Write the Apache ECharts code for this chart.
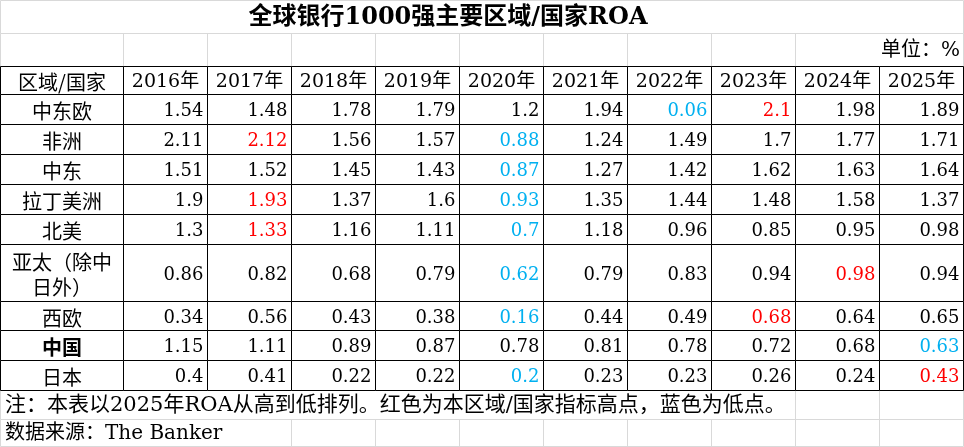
<!DOCTYPE html>
<html><head><meta charset="utf-8">
<script src="https://cdn.jsdelivr.net/npm/echarts@6/dist/echarts.min.js"></script>
<style>html,body{margin:0;padding:0;background:#fff}#main{width:964px;height:447px}</style>
</head><body><div id="main"></div>
<script>
// ---------- texts ----------
const titleText = '全球银行1000强主要区域/国家ROA';
const unitText = '单位：%';
const noteText = '注：本表以2025年ROA从高到低排列。红色为本区域/国家指标高点，蓝色为低点。';
const sourceText = '数据来源：The Banker';
const cornerLabel = '区域/国家';

// ---------- data ----------
const years = ['2016年','2017年','2018年','2019年','2020年','2021年','2022年','2023年','2024年','2025年'];
const regions = ['中东欧','非洲','中东','拉丁美洲','北美','亚太（除中日外）','西欧','中国','日本'];
const cee           = [1.54, 1.48, 1.78, 1.79, 1.2,  1.94, 0.06, 2.1,  1.98, 1.89];
const africa        = [2.11, 2.12, 1.56, 1.57, 0.88, 1.24, 1.49, 1.7,  1.77, 1.71];
const middleEast    = [1.51, 1.52, 1.45, 1.43, 0.87, 1.27, 1.42, 1.62, 1.63, 1.64];
const latinAmerica  = [1.9,  1.93, 1.37, 1.6,  0.93, 1.35, 1.44, 1.48, 1.58, 1.37];
const northAmerica  = [1.3,  1.33, 1.16, 1.11, 0.7,  1.18, 0.96, 0.85, 0.95, 0.98];
const asiaPacific   = [0.86, 0.82, 0.68, 0.79, 0.62, 0.79, 0.83, 0.94, 0.98, 0.94];
const westernEurope = [0.34, 0.56, 0.43, 0.38, 0.16, 0.44, 0.49, 0.68, 0.64, 0.65];
const china         = [1.15, 1.11, 0.89, 0.87, 0.78, 0.81, 0.78, 0.72, 0.68, 0.63];
const japan         = [0.4,  0.41, 0.22, 0.22, 0.2,  0.23, 0.23, 0.26, 0.24, 0.43];
const roaRows = [cee, africa, middleEast, latinAmerica, northAmerica, asiaPacific, westernEurope, china, japan];
// year index shown in red (high) / blue (low) for each region, -1 = none
const highMark = [7, 1, -1, 1, 1, 8, 7, -1, 9];
const lowMark  = [6, 4, 4, 4, 4, 4, 4, 9, 4];
const boldRegion = '中国';

// ---------- layout (sheet column / row weights) ----------
const COL_W = [1.465,1,1,1,1,1,1,1,1,1,1];
const ROW_H = [1.1,1.09,0.953, 1,1,1,1,1,1.88,0.977,1.01,0.99, 0.957,0.91];
const RED = '#FF0000', BLUE = '#00B0F0', GRID_GRAY = '#D9D9D9';
const NUM_FONT = "'DejaVu Serif', 'Noto Sans CJK SC'";
const CJK_FONT = "'Noto Sans CJK SC', 'DejaVu Serif'";

function cumulate(a){ const e=[0]; a.forEach(v=>e.push(e[e.length-1]+v)); return e; }
const colEdges = cumulate(COL_W);
const rowEdges = cumulate(ROW_H);
const NC = COL_W.length, NR = ROW_H.length;
const HEADER_ROW = 2, FIRST_DATA_ROW = 3, NOTE_ROW = 12, SOURCE_ROW = 13;

// ---------- gray sheet lines ----------
const sheetLines = [];
[0, 1, NOTE_ROW + 1, SOURCE_ROW + 1].forEach(r => sheetLines.push([colEdges[0], rowEdges[r], colEdges[NC], rowEdges[r]]));
function vLines(row, edges){ edges.forEach(c => sheetLines.push([colEdges[c], rowEdges[row], colEdges[c], rowEdges[row+1]])); }
vLines(0, [0, 11]);
vLines(1, [0,1,2,3,4,5,6,7,8,9,11]);
vLines(NOTE_ROW, [0,9,10,11]);
vLines(SOURCE_ROW, [0,3,4,5,6,7,8,9,10,11]);

// ---------- table cells ----------
const cellData = [], cellMeta = [];
function addCell(c, r, meta){
  cellData.push([colEdges[c], rowEdges[r], colEdges[c+1], rowEdges[r+1]]);
  cellMeta.push(meta);
}
addCell(0, HEADER_ROW, {text: cornerLabel, align:'center', size:20, family:CJK_FONT, color:'#000', weight:'normal'});
years.forEach((y,i) => addCell(i+1, HEADER_ROW, {text:y, align:'center', size:19, family:NUM_FONT, color:'#000', weight:'normal'}));
regions.forEach((name, ri) => {
  const r = FIRST_DATA_ROW + ri;
  addCell(0, r, {text:name, align:'center', size:20, family:CJK_FONT, color:'#000',
    weight: name === boldRegion ? 'bold' : 'normal', wrap: name.length > 5});
  roaRows[ri].forEach((v, ci) => {
    const color = ci === highMark[ri] ? RED : (ci === lowMark[ri] ? BLUE : '#000');
    addCell(ci+1, r, {text:String(v), align:'right', size:18, family:NUM_FONT, color, weight:'normal'});
  });
});

const px = v => Math.round(v) + 0.5;

const chart = echarts.init(document.getElementById('main'), null, {renderer:'canvas'});
chart.setOption({
  animation: false,
  backgroundColor: '#fff',
  grid: {left: 0, right: 1, top: 0, bottom: 1},
  xAxis: {type:'value', min:0, max:colEdges[NC], show:false},
  yAxis: {type:'value', min:0, max:rowEdges[NR], inverse:true, show:false},
  graphic: [
    {type:'text', x:448, y:18, style:{text:titleText, fill:'#000', fontSize:24, fontWeight:'bold', fontFamily:NUM_FONT, align:'center', verticalAlign:'middle'}},
    {type:'text', x:960, y:51, style:{text:unitText, fill:'#000', fontSize:20, fontFamily:NUM_FONT, align:'right', verticalAlign:'middle'}},
    {type:'text', x:5, y:406, style:{text:noteText, fill:'#000', fontSize:21, fontFamily:NUM_FONT, align:'left', verticalAlign:'middle'}},
    {type:'text', x:5, y:434, style:{text:sourceText, fill:'#000', fontSize:20, fontFamily:NUM_FONT, align:'left', verticalAlign:'middle'}}
  ],
  series: [
    {
      type:'custom', name:'sheet', silent:true, clip:false, z:1,
      data: sheetLines,
      renderItem: function(params, api){
        const a = api.coord([api.value(0), api.value(1)]);
        const b = api.coord([api.value(2), api.value(3)]);
        return {type:'line', shape:{x1:px(a[0]), y1:px(a[1]), x2:px(b[0]), y2:px(b[1])}, style:{stroke:GRID_GRAY, lineWidth:1}};
      }
    },
    {
      type:'custom', name:'table', silent:true, clip:false, z:2,
      data: cellData,
      renderItem: function(params, api){
        const m = cellMeta[params.dataIndex];
        const a = api.coord([api.value(0), api.value(1)]);
        const b = api.coord([api.value(2), api.value(3)]);
        const x0 = px(a[0]), y0 = px(a[1]), x1 = px(b[0]), y1 = px(b[1]);
        const tx = m.align === 'right' ? x1 - 4 : (x0 + x1) / 2;
        const ts = {text:m.text, fill:m.color, fontSize:m.size, fontFamily:m.family, fontWeight:m.weight,
          align:m.align, verticalAlign:'middle'};
        if (m.wrap) { ts.width = x1 - x0 - 14; ts.overflow = 'break'; ts.lineHeight = 25; }
        return {type:'group', children:[
          {type:'rect', shape:{x:x0, y:y0, width:x1-x0, height:y1-y0}, style:{fill:'#fff', stroke:'#000', lineWidth:1}, z2:0},
          {type:'text', x:tx, y:(y0+y1)/2 + 2, style:ts, z2:1}
        ]};
      }
    }
  ]
});
</script></body></html>
